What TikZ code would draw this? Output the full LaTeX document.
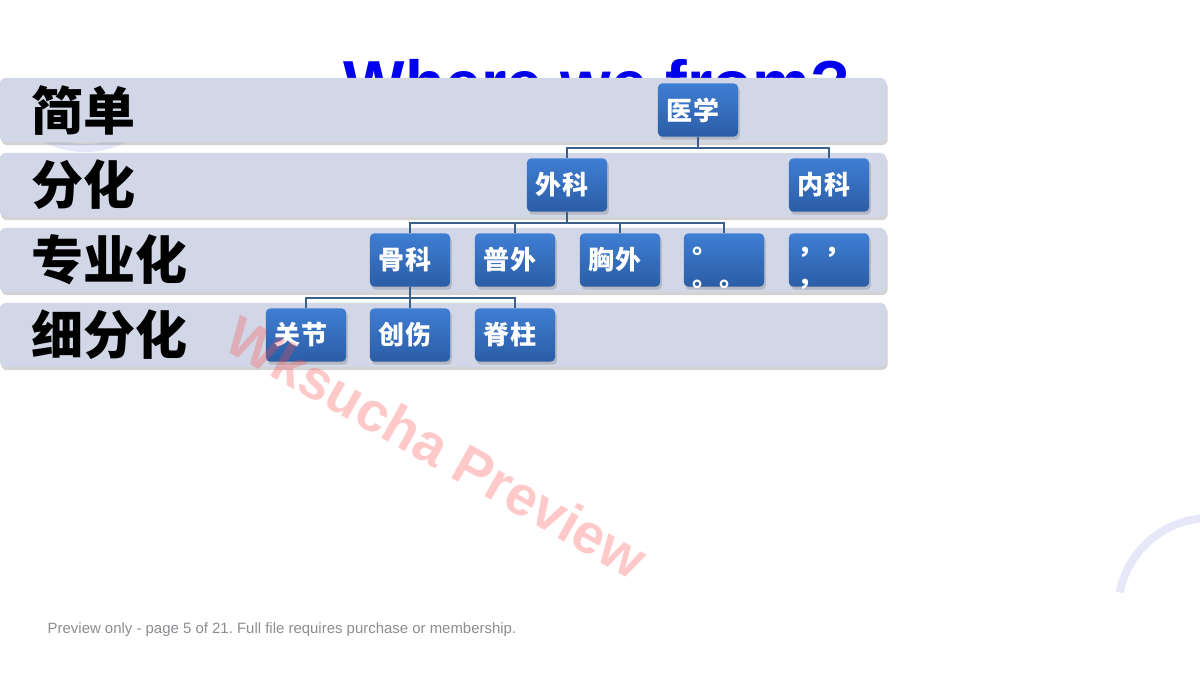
\documentclass[tikz,border=0pt]{standalone}
\usepackage{fontspec}
\setmainfont{Liberation Sans}
\newfontfamily\cjk{Noto Sans CJK SC}
\usetikzlibrary{shadows,positioning}
\frenchspacing

\definecolor{bandgray}{HTML}{D1D7E6}
\definecolor{boxtop}{HTML}{3F7ED3}
\definecolor{boxbottom}{HTML}{2B5DA6}
\definecolor{linkblue}{HTML}{3A5F8A}
\definecolor{arcpale}{HTML}{E6E8FA}
\definecolor{notegray}{HTML}{8A8C90}

\tikzset{
  band/.style={rounded corners=0.06cm, fill=bandgray,
    minimum width=8.86cm, minimum height=0.64cm,
    text width=8.22cm, inner xsep=0.32cm, inner ysep=0pt, align=left,
    font=\cjk\bfseries\fontsize{14.8}{15}\selectfont,
    drop shadow={shadow xshift=0.4pt, shadow yshift=-0.9pt, opacity=0.35}},
  unit/.style={rounded corners=0.04cm, top color=boxtop, bottom color=boxbottom,
    minimum width=0.8cm, minimum height=0.53cm,
    text width=0.62cm, inner xsep=0.09cm, align=left, text=white,
    font=\cjk\bfseries\fontsize{7.4}{9.1}\selectfont,
    drop shadow={shadow xshift=0.5pt, shadow yshift=-0.9pt, opacity=0.35}},
  link/.style={draw=linkblue, line width=0.5pt},
}

\begin{document}
\begin{tikzpicture}[x=0.01cm,y=-0.01cm]
    \useasboundingbox (0,0) rectangle (1200,676);

    % decorative arcs
    \draw[arcpale,line width=0.08cm] (85,60) ++(20:88) arc[start angle=20,end angle=160,radius=88];
    \draw[arcpale,line width=0.08cm] (1210,610) ++(191:92) arc[start angle=191,end angle=290,radius=92];

    % title, mostly hidden by the bands
    \node[anchor=base, text=blue!93!black, font=\bfseries\fontsize{18.5}{20}\selectfont]
      (title) at (597,107) {Where we from?};

    % 1) the four level bands
    \node[band] (band1) at (443,110) {简单};
    \node[band] (band2) at (443,185) {分化};
    \node[band] (band3) at (443,260) {专业化};
    \node[band] (band4) at (443,335) {细分化};

    % 2) boxes of each level
    \node[unit] (yixue) at (698,110) {医学};

    \node[unit] (waike) at (567,185) {外科};
    \node[unit] (neike) at (829,185) {内科};

    \node[unit] (guke)   at (410,260) {骨科};
    \node[unit] (puwai)  at (515,260) {普外};
    \node[unit] (xiongwai) at (620,260) {胸外};
    \node[unit] (dots)   at (724,260) {};
    \node[unit] (commas) at (829,260) {};
    \node[anchor=north west, inner sep=0pt, text=white, align=left,
      font=\cjk\bfseries\fontsize{7.4}{9.1}\selectfont]
      (dotstext) at ([xshift=0.09cm,yshift=-0.14cm]dots.north west) {。\\。。};
    \node[anchor=north west, inner sep=0pt, text=white, align=left,
      font=\cjk\bfseries\fontsize{7.4}{9.1}\selectfont]
      (commastext) at ([xshift=0.09cm,yshift=-0.14cm]commas.north west) {，，\\，};

    \node[unit] (guanjie)  at (306,335) {关节};
    \node[unit] (chuang)   at (410,335) {创伤};
    \node[unit] (jizhu)    at (515,335) {脊柱};

    % 3) tree connectors
    \draw[link] (yixue.south) -- ++(0,11) -| (waike.north);
    \draw[link] (yixue.south) -- ++(0,11) -| (neike.north);

    \draw[link] (waike.south) -- ++(0,11) -| (guke.north);
    \draw[link] (waike.south) -- ++(0,11) -| (puwai.north);
    \draw[link] (waike.south) -- ++(0,11) -| (xiongwai.north);
    \draw[link] (waike.south) -- ++(0,11) -| (dots.north);

    \draw[link] (guke.south) -- ++(0,11) -| (guanjie.north);
    \draw[link] (guke.south) -- ++(0,11) -| (chuang.north);
    \draw[link] (guke.south) -- ++(0,11) -| (jizhu.north);

    % watermark and footer
    \node[rotate=-29.5, text=red!70!white, opacity=0.3,
      font=\bfseries\fontsize{15.9}{17}\selectfont] (mark) at (437,447) {Wksucha Preview};
    \node[anchor=west, inner sep=0pt, text=notegray, font=\fontsize{4.25}{5}\selectfont]
      (note) at (47,630) {Preview only - page 5 of 21. Full file requires purchase or membership.};
\end{tikzpicture}
\end{document}
